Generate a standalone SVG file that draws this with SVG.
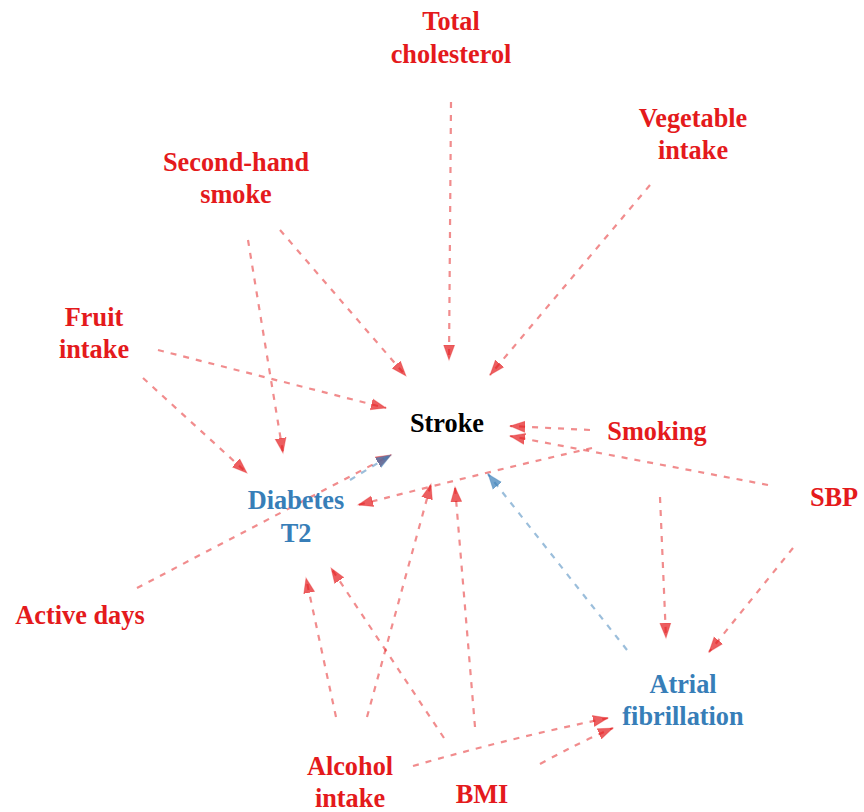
<svg xmlns="http://www.w3.org/2000/svg" width="864" height="812" viewBox="0 0 864 812">
<defs>
<style>
.t{font-family:"Liberation Serif","Times New Roman",serif;font-weight:bold;font-size:26.3px;text-anchor:middle}
.r{fill:#e41a1c}.b{fill:#377eb8}.k{fill:#000}
.e{fill:none;stroke-width:2.2;stroke-dasharray:6 7}
.er{stroke:#e41a1c;stroke-opacity:0.5;marker-end:url(#ar)}
.eb{stroke:#377eb8;stroke-opacity:0.5;marker-end:url(#ab)}
</style>
<marker id="ar" markerUnits="userSpaceOnUse" markerWidth="17" markerHeight="13" refX="15" refY="6.5" orient="auto"><path d="M0,1 L15,6.5 L0,12 Z" fill="#e41a1c" fill-opacity="0.7" stroke="#e41a1c" stroke-opacity="0.3" stroke-width="1"/></marker>
<marker id="ab" markerUnits="userSpaceOnUse" markerWidth="17" markerHeight="13" refX="15" refY="6.5" orient="auto"><path d="M0,1 L15,6.5 L0,12 Z" fill="#377eb8" fill-opacity="0.7" stroke="#377eb8" stroke-opacity="0.3" stroke-width="1"/></marker>
</defs>
<rect width="864" height="812" fill="#fff"/>
<g id="edges">
<path class="e er" d="M451,102 L449,360"/>
<path class="e er" d="M650,185 L490,375"/>
<path class="e er" d="M280,230 L406,376"/>
<path class="e er" d="M248,240 L283,453"/>
<path class="e er" d="M158,350 L386,408"/>
<path class="e er" d="M143,378 L247,473"/>
<path class="e er" d="M590,430 L510,426"/>
<path class="e er" d="M768,485 L510,436"/>
<path class="e er" d="M592,448 Q495,470 358,505"/>
<path class="e er" d="M137,588 L391,455"/>
<path class="e eb" d="M350,480 L391,455"/>
<path class="e eb" d="M627,650 L488,474"/>
<path class="e er" d="M660,497 L666,638"/>
<path class="e er" d="M793,548 L709,652"/>
<path class="e er" d="M336,717 L306,578"/>
<path class="e er" d="M367,717 L431,484"/>
<path class="e er" d="M444,738 L331,568"/>
<path class="e er" d="M475,727 L455,487"/>
<path class="e er" d="M413,766 Q510,738 608,718"/>
<path class="e er" d="M540,764 Q580,742 613,728"/>
</g>
<g id="total_cholesterol"><text class="t r" x="451" y="30">Total</text><text class="t r" x="451" y="63">cholesterol</text></g>
<g id="vegetable_intake"><text class="t r" x="693" y="127">Vegetable</text><text class="t r" x="693" y="159">intake</text></g>
<g id="second_hand_smoke"><text class="t r" x="236" y="171">Second-hand</text><text class="t r" x="236" y="203">smoke</text></g>
<g id="fruit_intake"><text class="t r" x="94" y="326">Fruit</text><text class="t r" x="94" y="358">intake</text></g>
<g id="stroke"><text class="t k" x="447" y="432">Stroke</text></g>
<g id="smoking"><text class="t r" x="657" y="440">Smoking</text></g>
<g id="sbp"><text class="t r" x="834" y="506">SBP</text></g>
<g id="diabetes_t2"><text class="t b" x="296" y="509">Diabetes</text><text class="t b" x="296" y="542">T2</text></g>
<g id="active_days"><text class="t r" x="80" y="624">Active days</text></g>
<g id="atrial_fibrillation"><text class="t b" x="683" y="693">Atrial</text><text class="t b" x="683" y="725">fibrillation</text></g>
<g id="alcohol_intake"><text class="t r" x="350" y="775">Alcohol</text><text class="t r" x="350" y="807">intake</text></g>
<g id="bmi"><text class="t r" x="482" y="803">BMI</text></g>
</svg>
